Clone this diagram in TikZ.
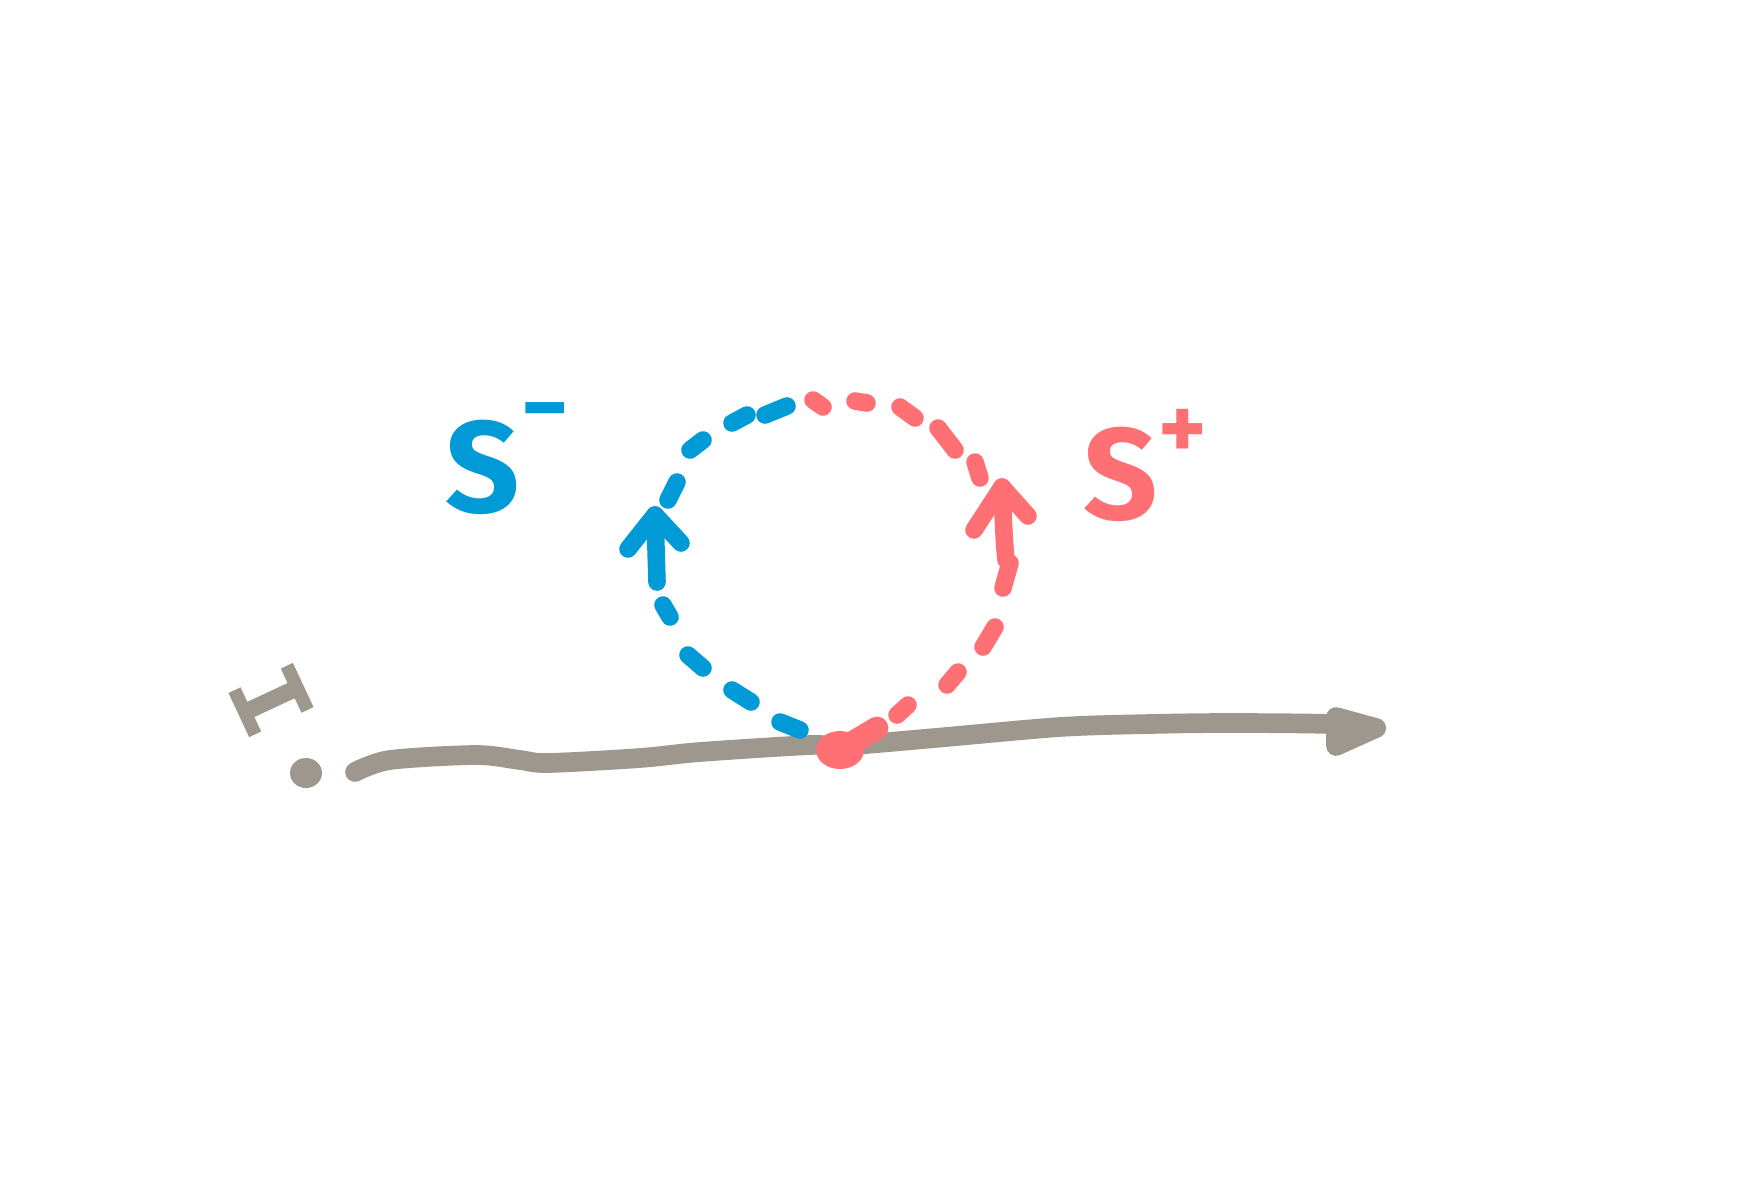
\documentclass[tikz,border=0pt]{standalone}
\usepackage{fontspec}
\setsansfont{Fira Sans}
\newfontfamily\monoI[FakeBold=1.5]{Liberation Mono}
\definecolor{sblue}{RGB}{0,155,214}
\definecolor{sred}{RGB}{255,112,116}
\definecolor{sgray}{RGB}{158,151,142}
\begin{document}
\begin{tikzpicture}[x=0.01cm,y=-0.01cm,
  bluedash/.style={draw=sblue,line width=5pt,line cap=round,line join=round},
  reddash/.style={draw=sred,line width=5pt,line cap=round,line join=round},
  grayline/.style={draw=sgray,line width=5.6pt,line cap=round,line join=round},
  lab/.style={font=\fontsize{37}{40}\selectfont\sffamily\bfseries,inner sep=0pt},
  suplab/.style={font=\fontsize{26}{28}\selectfont\sffamily\bfseries,inner sep=0pt},
]
\useasboundingbox[fill=white] (0,0) rectangle (1748,1181);

% named points
\coordinate (vtx) at (840,750);
\coordinate (lstart) at (355,772);
\coordinate (lend) at (1376,728);

% gray line with arrow
\draw[grayline] plot[smooth,tension=0.5] coordinates {(355,772) (390,760) (476,755) (520,760) (548,763) (640,758) (700,752) (810,745) (840,746) (935,738) (1060,727) (1150,724) (1230,723) (1330,724) (1376,728)};
\draw[grayline,fill=sgray] (1336,717) -- (lend) -- (1336,746) -- cycle;
\fill[sgray] (306,773) ellipse (16 and 15);

% I label
\node[font=\monoI\bfseries\fontsize{30}{32}\selectfont,text=sgray,rotate=-65,inner sep=0pt] (ilab) at (271,700) {I};

% blue dashes (left half)
\draw[bluedash] (765,415) -- (787,406);
\draw[bluedash] (732,423) -- (747,415);
\draw[bluedash] (690,450) -- (703,440);
\draw[bluedash] (668,500) -- (677,482);
\draw[bluedash] (657,582) -- (655,515);
\draw[bluedash] (628,549) -- (655,515) -- (681,543);
\draw[bluedash] (663,605) -- (670,617);
\draw[bluedash] (688,655) -- (703,668);
\draw[bluedash] (732,690) -- (751,702);
\draw[bluedash] (780,722) -- (800,730);

% red dashes (right half)
\draw[reddash] (813,400) -- (823,407);
\draw[reddash] (855,401) -- (867,403);
\draw[reddash] (900,407) -- (915,418);
\draw[reddash] (938,428) -- (955,450);
\draw[reddash] (975,462) -- (980,478);
\draw[reddash] (1002,487) .. controls (1003,515) and (1004,540) .. (1006,560);
\draw[reddash] (1010,563) -- (1003,588);
\draw[reddash] (974,530) -- (1002,487) -- (1028,516);
\draw[reddash] (995,627) -- (983,647);
\draw[reddash] (958,672) -- (947,685);
\draw[reddash] (908,705) -- (897,715);
\draw[draw=sred,line width=6.5pt,line cap=round] (vtx) -- (877,728);
\fill[sred] (vtx) ellipse (24 and 19);

% labels
\node[lab,text=sblue] (sm) at (483,467) {S};
\node[suplab,text=sblue] (smsup) at (545,421) {−};
\node[lab,text=sred] (sp) at (1121,474) {S};
\node[suplab,text=sred] (spsup) at (1183,434) {+};
\end{tikzpicture}
\end{document}
